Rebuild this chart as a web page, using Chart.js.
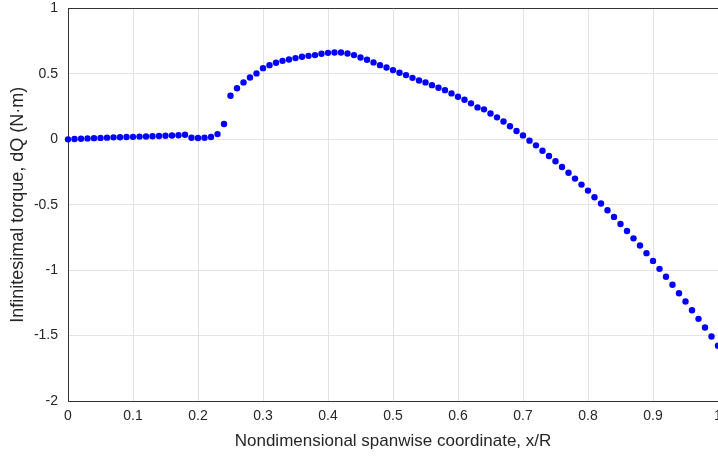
<!DOCTYPE html>
<html>
<head>
<meta charset="utf-8">
<script src="https://cdn.jsdelivr.net/npm/chart.js@4/dist/chart.umd.min.js"></script>
<style>
  body { margin: 0; background: #fff; }
  #wrap { width: 718px; height: 457px; }
</style>
</head>
<body>
<div id="wrap"><canvas id="myChart" width="718" height="457"></canvas></div>
<script>
// spanwise stations x/R
const spanX = [
  0.00, 0.01, 0.02, 0.03, 0.04, 0.05, 0.06, 0.07, 0.08, 0.09,
  0.10, 0.11, 0.12, 0.13, 0.14, 0.15, 0.16, 0.17, 0.18, 0.19,
  0.20, 0.21, 0.22, 0.23, 0.24, 0.25, 0.26, 0.27, 0.28, 0.29,
  0.30, 0.31, 0.32, 0.33, 0.34, 0.35, 0.36, 0.37, 0.38, 0.39,
  0.40, 0.41, 0.42, 0.43, 0.44, 0.45, 0.46, 0.47, 0.48, 0.49,
  0.50, 0.51, 0.52, 0.53, 0.54, 0.55, 0.56, 0.57, 0.58, 0.59,
  0.60, 0.61, 0.62, 0.63, 0.64, 0.65, 0.66, 0.67, 0.68, 0.69,
  0.70, 0.71, 0.72, 0.73, 0.74, 0.75, 0.76, 0.77, 0.78, 0.79,
  0.80, 0.81, 0.82, 0.83, 0.84, 0.85, 0.86, 0.87, 0.88, 0.89,
  0.90, 0.91, 0.92, 0.93, 0.94, 0.95, 0.96, 0.97, 0.98, 0.99,
  1.00
];

// infinitesimal torque dQ (N·m)
const torqueDQ = [
  0.000, 0.002, 0.005, 0.007, 0.009, 0.011, 0.013, 0.015, 0.016, 0.018,
  0.019, 0.021, 0.022, 0.024, 0.025, 0.027, 0.029, 0.031, 0.035, 0.012,
  0.010, 0.012, 0.018, 0.040, 0.117, 0.333, 0.390, 0.435, 0.473, 0.504,
  0.544, 0.567, 0.585, 0.600, 0.610, 0.621, 0.631, 0.638, 0.644, 0.654,
  0.661, 0.664, 0.664, 0.656, 0.644, 0.626, 0.608, 0.588, 0.567, 0.549,
  0.529, 0.509, 0.491, 0.470, 0.450, 0.435, 0.414, 0.394, 0.376, 0.351,
  0.325, 0.302, 0.275, 0.244, 0.229, 0.198, 0.168, 0.136, 0.100, 0.064,
  0.030, -0.010, -0.046, -0.087, -0.127, -0.168, -0.211, -0.255, -0.300, -0.346,
  -0.392, -0.443, -0.491, -0.542, -0.593, -0.647, -0.701, -0.757, -0.812, -0.870,
  -0.929, -0.990, -1.050, -1.112, -1.176, -1.240, -1.306, -1.372, -1.438, -1.507,
  -1.578
];

const xTicks = [0, 0.1, 0.2, 0.3, 0.4, 0.5, 0.6, 0.7, 0.8, 0.9, 1];
const yTicks = [-2, -1.5, -1, -0.5, 0, 0.5, 1];

const xTitle = "Nondimensional spanwise coordinate, x/R";
const yTitle = "Infinitesimal torque, dQ (N·m)";

const puntos = spanX.map((x, i) => ({ x: x, y: torqueDQ[i] }));

const textColor = "#262626";
const axisColor = "#333333";
const gridColor = "#e3e3e3";
const fontFam = "'Liberation Sans', Arial, Helvetica, sans-serif";

var ctx = document.getElementById("myChart").getContext("2d");

var myChart = new Chart(ctx, {
  type: "scatter",
  data: {
    datasets: [
      {
        data: puntos,
        backgroundColor: "#0000ff",
        borderWidth: 0,
        pointRadius: 3.2,
        clip: false,
      },
    ],
  },
  options: {
    responsive: false,
    animation: false,
    layout: { autoPadding: false, padding: { top: 8.5, left: 0, right: 0, bottom: 0 } },
    plugins: {
      legend: { display: false },
      tooltip: { enabled: false },
    },
    scales: {
      x: {
        type: "linear",
        position: "bottom",
        min: 0,
        max: 1,
        afterBuildTicks: (scale) => {
          scale.ticks = xTicks.map((v) => ({ value: v }));
        },
        afterFit: (scale) => {
          scale.height = 56;
          scale.paddingLeft = 0;
          scale.paddingRight = 0;
        },
        grid: { color: gridColor, drawTicks: false },
        border: { color: axisColor, width: 1 },
        ticks: {
          padding: 7,
          maxRotation: 0,
          autoSkip: false,
          color: textColor,
          font: { family: fontFam, size: 14 },
          callback: (v) => String(+Number(v).toFixed(1)),
        },
        title: {
          display: true,
          text: xTitle,
          color: textColor,
          font: { family: fontFam, size: 17 },
          padding: { top: 0, bottom: 5 },
        },
      },
      top: {
        type: "linear",
        position: "top",
        min: 0,
        max: 1,
        afterFit: (scale) => {
          scale.height = 0;
          scale.paddingLeft = 0;
          scale.paddingRight = 0;
        },
        grid: { display: false, drawTicks: false },
        border: { color: axisColor, width: 1 },
        ticks: { display: false },
      },
      y: {
        type: "linear",
        min: -2,
        max: 1,
        afterBuildTicks: (scale) => {
          scale.ticks = yTicks.map((v) => ({ value: v }));
        },
        afterFit: (scale) => {
          scale.width = 68;
          scale.paddingTop = 0;
          scale.paddingBottom = 0;
        },
        grid: { color: gridColor, drawTicks: false },
        border: { color: axisColor, width: 1 },
        ticks: {
          padding: 10,
          autoSkip: false,
          color: textColor,
          font: { family: fontFam, size: 14 },
          callback: (v) => String(+Number(v).toFixed(1)),
        },
        title: {
          display: true,
          text: yTitle,
          color: textColor,
          font: { family: fontFam, size: 18 },
          padding: { top: 7, bottom: 0 },
        },
      },
    },
  },
});
</script>
</body>
</html>
